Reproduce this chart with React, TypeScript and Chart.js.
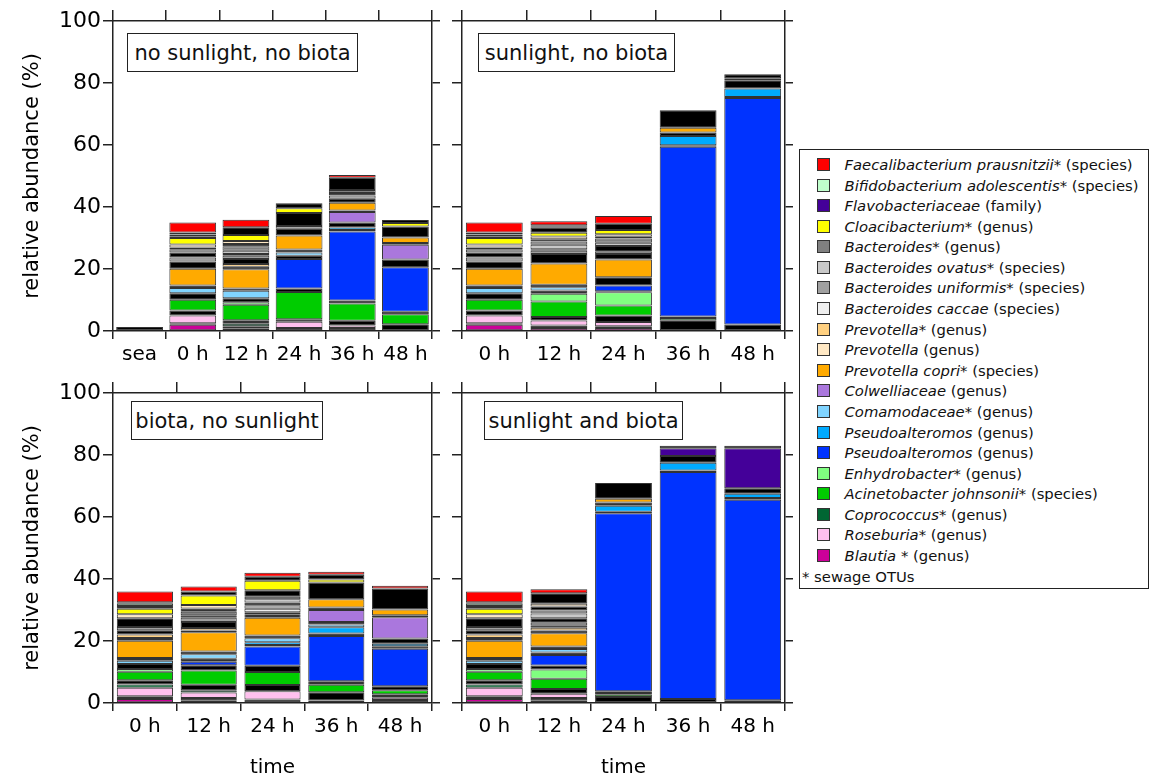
import React, { useEffect, useRef } from 'react';
import { Chart, registerables } from 'chart.js';
Chart.register(...registerables);

const FONT = '"DejaVu Sans", sans-serif';

// categories
const catsTopLeft = ['sea', '0 h', '12 h', '24 h', '36 h', '48 h'];
const catsOther = ['0 h', '12 h', '24 h', '36 h', '48 h'];
const panelTitles = ['no sunlight, no biota', 'sunlight, no biota', 'biota, no sunlight', 'sunlight and biota'];

// relative abundance (%) per panel: [no sun/no biota (6), sun/no biota (5), biota/no sun (5), sun+biota (5)]
const blautia = [[0, 2.0, 0.9, 0, 0, 0], [2.0, 1.0, 1.0, 0, 0], [1.3, 0.9, 0, 0.8, 0], [1.3, 0.9, 0, 0, 0]];
const otherA = [[1.3, 0.5, 0.6, 1.0, 1.0, 2.2], [0.5, 0.8, 0.5, 3.5, 2.1], [0.9, 0.7, 1.1, 2.7, 1.0], [0.9, 0.7, 1.9, 1.3, 0.9]];
const roseburia = [[0, 2.5, 0, 2.0, 0.8, 0], [2.5, 1.6, 1.4, 0, 0], [2.7, 1.8, 2.7, 0, 0.7], [2.7, 1.4, 0, 0, 0]];
const coprococcus = [[0, 0, 0.8, 0, 0, 0], [0, 0, 0, 0, 0], [1.1, 0.7, 0, 0, 0], [1.1, 0, 0, 0, 0]];
const otherB = [[0, 1.6, 1.2, 0.8, 1.5, 0], [1.6, 1.1, 2.1, 0, 0], [1.3, 1.8, 2.0, 0, 1.1], [1.3, 1.5, 0, 0, 0]];
const acinetobacter = [[0, 3.5, 5.0, 8.8, 5.6, 3.2], [3.5, 5.0, 3.2, 0, 0], [2.8, 4.6, 4.2, 2.4, 1.3], [2.8, 3.3, 0.8, 0, 0]];
const enhydrobacter = [[0, 0, 0.8, 0, 0, 0], [0, 2.5, 4.3, 0.7, 0], [0.9, 0, 0, 0, 0], [0.9, 3.0, 0, 0, 0]];
const otherC = [[0, 2.1, 1.3, 1.1, 0.9, 0.8], [2.1, 1.1, 0.3, 0.5, 0], [1.6, 1.7, 2.0, 1.1, 1.3], [1.6, 1.3, 1.1, 0, 0]];
const pseudoBlue = [[0, 0, 0, 9.5, 22.3, 14.4], [0, 0, 1.9, 54.7, 73.1], [0, 1.1, 6.2, 14.6, 12.1], [0, 3.4, 57.4, 73.2, 64.7]];
const otherD = [[0, 0, 0, 1.1, 0.5, 2.5], [0, 0, 2.6, 0.5, 0.3], [0, 1.0, 0.5, 0.8, 0.8], [0, 0.8, 0.5, 0.5, 0.5]];
const pseudoLight = [[0, 0, 0, 0, 0.8, 0], [0, 0, 0, 3.0, 2.7], [0, 0, 0.9, 2.0, 0.8], [0, 0, 1.9, 2.5, 1.4]];
const comamodaceae = [[0, 1.7, 2.4, 1.0, 0, 0], [1.7, 1.0, 0, 0, 0], [1.0, 1.4, 1.3, 0.9, 0], [1.0, 1.1, 0, 0, 0]];
const otherE = [[0, 0.8, 0.7, 1.0, 1.6, 0], [0.8, 0.8, 0, 1.1, 2.7], [0.9, 0.9, 0.9, 0.8, 1.7], [0.9, 0.8, 1.1, 2.2, 1.8]];
const colwelliaceae = [[0, 0, 0, 0, 3.4, 4.7], [0, 0, 0, 0, 0], [0, 0, 0, 3.9, 6.9], [0, 0, 0, 0, 0]];
const otherF = [[0, 0, 0, 0, 0.5, 0.6], [0, 0, 0, 0, 0], [0, 0, 0, 0.8, 0.6], [0, 0, 0, 0, 0]];
const prevotellaCopri = [[0, 5.4, 6.2, 4.5, 2.5, 1.8], [5.4, 6.9, 5.8, 1.6, 0], [5.6, 6.2, 5.7, 2.7, 1.9], [5.6, 4.3, 1.2, 0, 0]];
const otherG = [[0, 2.3, 0.8, 2.2, 1.3, 3.5], [2.3, 3.0, 1.7, 5.6, 0], [0.9, 0.6, 1.1, 5.4, 6.7], [0.9, 0.9, 5.1, 0, 0]];
const prevotellaStar = [[0, 0, 0.9, 0, 0, 0], [0, 0, 0, 0, 0], [1.1, 0.8, 0, 0, 0], [1.1, 0.9, 0, 0, 0]];
const otherH = [[0, 0, 1.6, 0, 0, 0], [0, 0, 0, 0, 0], [1.4, 1.9, 0.7, 0, 0], [1.4, 0.8, 0, 0, 0]];
const bactCaccae = [[0, 0, 0, 0, 0, 0], [0, 0, 0.8, 0, 0], [0, 0, 1.1, 0, 0], [0, 0.8, 0, 0, 0]];
const bactUniformis = [[0, 1.3, 1.1, 0.9, 1.0, 0], [1.3, 1.1, 0, 0, 0], [1.0, 1.4, 1.1, 0, 0], [1.0, 0, 0, 0, 0]];
const otherI = [[0, 1.6, 0.5, 4.2, 0.8, 0], [1.6, 0.5, 1.8, 0, 0], [2.8, 0.8, 0.9, 0, 0], [2.8, 1.4, 0, 0, 0]];
const bactOvatus = [[0, 0, 1.1, 0, 0, 0], [0, 1.4, 1.1, 0, 0], [0, 0, 1.1, 0, 0], [0, 1.6, 0, 0, 0]];
const bacteroides = [[0, 1.1, 1.4, 0, 1.0, 0], [1.1, 1.1, 1.3, 0, 0], [0, 1.1, 0.8, 0, 0], [0, 0.9, 0, 0, 0]];
const otherJ = [[0, 0.5, 0.8, 0, 3.9, 0], [0.5, 0.7, 0.6, 0, 0], [0, 1.1, 2.1, 0, 0], [0, 1.3, 0, 0, 0]];
const prevotella = [[0, 1.0, 0.9, 0, 0, 0], [1.0, 0.9, 0.8, 0, 0], [1.3, 1.1, 0, 0, 0], [1.3, 0.9, 0, 0, 0]];
const cloacibacterium = [[0, 2.1, 2.0, 1.5, 0, 1.1], [2.1, 1.2, 1.4, 0, 0], [1.8, 3.1, 3.0, 0.9, 0], [1.8, 0, 0, 0, 0]];
const otherK = [[0, 0.6, 2.5, 1.6, 0, 1.0], [0.6, 1.6, 2.0, 0, 0], [0.9, 1.3, 1.3, 1.6, 0], [0.9, 3.4, 0, 0, 0]];
const flavobacteriaceae = [[0, 0, 0, 0, 0, 0], [0, 0, 0, 0, 0.6], [0, 0, 0, 0, 0], [0, 0, 0, 2.5, 12.9]];
const otherL = [[0, 0, 0, 0, 0, 0], [0, 0, 0, 0, 1.3], [0, 0, 0, 0, 0], [0, 0, 0, 0.8, 0.8]];
const bifidobacterium = [[0, 0.5, 0, 0, 0, 0], [0.5, 0.5, 0, 0, 0], [0.7, 0, 0, 0, 0], [0.7, 0, 0, 0, 0]];
const otherM = [[0, 0.7, 0, 0, 0, 0], [0.7, 0.3, 0, 0, 0], [0.5, 0, 0, 0, 0], [0.5, 0, 0, 0, 0]];
const faecalibacterium = [[0, 3.2, 2.4, 0, 0.9, 0], [3.2, 1.3, 2.5, 0, 0], [3.5, 1.6, 1.3, 0.9, 0.9], [3.5, 1.3, 0, 0, 0]];

// colours
const C = {
  faecali: '#ff0000', bifido: '#c0ffcc', flavo: '#440099', cloaci: '#ffff00', bact: '#808080',
  ovatus: '#c8c8c8', uniformis: '#a0a0a0', caccae: '#eeeeee', prevStar: '#ffd080', prev: '#ffe8c4',
  copri: '#ffaa00', colw: '#aa77dd', comamo: '#80d4ff', pseudoLight: '#00aaff', pseudoBlue: '#0033ff',
  enhydro: '#80ff80', acin: '#00cc00', copro: '#006633', rose: '#ffc0ee', blautia: '#cc0099', other: '#000000',
};

// stacking order (bottom to top)
const stackOrder: { label: string; values: number[][]; color: string }[] = [
  { label: 'Blautia*', values: blautia, color: C.blautia },
  { label: 'other OTUs', values: otherA, color: C.other },
  { label: 'Roseburia*', values: roseburia, color: C.rose },
  { label: 'Coprococcus*', values: coprococcus, color: C.copro },
  { label: 'other OTUs', values: otherB, color: C.other },
  { label: 'Acinetobacter johnsonii*', values: acinetobacter, color: C.acin },
  { label: 'Enhydrobacter*', values: enhydrobacter, color: C.enhydro },
  { label: 'other OTUs', values: otherC, color: C.other },
  { label: 'Pseudoalteromos', values: pseudoBlue, color: C.pseudoBlue },
  { label: 'other OTUs', values: otherD, color: C.other },
  { label: 'Pseudoalteromos', values: pseudoLight, color: C.pseudoLight },
  { label: 'Comamodaceae*', values: comamodaceae, color: C.comamo },
  { label: 'other OTUs', values: otherE, color: C.other },
  { label: 'Colwelliaceae', values: colwelliaceae, color: C.colw },
  { label: 'other OTUs', values: otherF, color: C.other },
  { label: 'Prevotella copri*', values: prevotellaCopri, color: C.copri },
  { label: 'other OTUs', values: otherG, color: C.other },
  { label: 'Prevotella*', values: prevotellaStar, color: C.prevStar },
  { label: 'other OTUs', values: otherH, color: C.other },
  { label: 'Bacteroides caccae', values: bactCaccae, color: C.caccae },
  { label: 'Bacteroides uniformis*', values: bactUniformis, color: C.uniformis },
  { label: 'other OTUs', values: otherI, color: C.other },
  { label: 'Bacteroides ovatus*', values: bactOvatus, color: C.ovatus },
  { label: 'Bacteroides*', values: bacteroides, color: C.bact },
  { label: 'other OTUs', values: otherJ, color: C.other },
  { label: 'Prevotella', values: prevotella, color: C.prev },
  { label: 'Cloacibacterium*', values: cloacibacterium, color: C.cloaci },
  { label: 'other OTUs', values: otherK, color: C.other },
  { label: 'Flavobacteriaceae', values: flavobacteriaceae, color: C.flavo },
  { label: 'other OTUs', values: otherL, color: C.other },
  { label: 'Bifidobacterium adolescentis*', values: bifidobacterium, color: C.bifido },
  { label: 'other OTUs', values: otherM, color: C.other },
  { label: 'Faecalibacterium prausnitzii*', values: faecalibacterium, color: C.faecali },
];

// legend (top to bottom)
const legendNames = ['Faecalibacterium prausnitzii*', 'Bifidobacterium adolescentis*', 'Flavobacteriaceae', 'Cloacibacterium*',
  'Bacteroides*', 'Bacteroides ovatus*', 'Bacteroides uniformis*', 'Bacteroides caccae', 'Prevotella', 'Prevotella',
  'Prevotella copri', 'Colwelliaceae', 'Comamodaceae', 'Pseudoalteromos', 'Pseudoalteromos', 'Enhydrobacter*',
  'Acinetobacter johnsonii*', 'Coprococcus*', 'Roseburia*', 'Blautia'];
const legendSuffix = [' (species)', ' (species)', ' (family)', ' (genus)', ' (genus)', ' (species)', ' (species)', ' (species)',
  '* (genus)', ' (genus)', '* (species)', ' (genus)', '* (genus)', ' (genus)', ' (genus)', ' (genus)', ' (species)',
  ' (genus)', ' (genus)', ' * (genus)'];
const legendColors = [C.faecali, C.bifido, C.flavo, C.cloaci, C.bact, C.ovatus, C.uniformis, C.caccae, C.prevStar, C.prev,
  C.copri, C.colw, C.comamo, C.pseudoLight, C.pseudoBlue, C.enhydro, C.acin, C.copro, C.rose, C.blautia];

const AX = '#222';

type PanelProps = {
  idx: number; left: number; top: number; width: number; height: number;
  box: { l: number; r: number; t: number; b: number };
  labels: string[]; yLabels: boolean; xTitle: boolean;
};

function Panel(p: PanelProps) {
  const ref = useRef<HTMLCanvasElement>(null);
  useEffect(() => {
    const datasets = stackOrder.map((s) => ({
      label: s.label,
      data: s.values[p.idx].map((v) => (v > 0 ? v : null)),
      backgroundColor: s.color,
      borderColor: '#333',
      borderWidth: 1,
      borderSkipped: false as const,
      categoryPercentage: 1,
      barPercentage: 0.88,
    }));
    const gridCommon = { drawOnChartArea: false, drawTicks: true, color: AX, lineWidth: 1.5 };
    const border = { display: true, color: AX, width: 1.5 };
    const chart = new Chart(ref.current!, {
      type: 'bar',
      data: { labels: p.labels, datasets },
      options: {
        animation: false,
        responsive: false,
        maintainAspectRatio: false,
        layout: { padding: 0 },
        plugins: { legend: { display: false }, tooltip: { enabled: false } },
        scales: {
          x: {
            type: 'category', position: 'bottom', stacked: true, offset: true,
            grid: { ...gridCommon, offset: true, tickLength: 8 },
            border,
            ticks: { color: '#000', font: { family: FONT, size: 20 }, padding: 4, maxRotation: 0, autoSkip: false },
            title: { display: p.xTitle, text: 'time', color: '#000', font: { family: FONT, size: 20 }, padding: { top: 0, bottom: 0 } },
            afterFit: (s: any) => { s.height = p.box.b; },
          },
          x2: {
            type: 'category', position: 'top', offset: true,
            grid: { ...gridCommon, offset: true, tickLength: 11 },
            border,
            ticks: { display: false },
            afterFit: (s: any) => { s.height = p.box.t; },
          },
          y: {
            type: 'linear', position: 'left', stacked: true, min: 0, max: 100,
            grid: { ...gridCommon, tickLength: 10 },
            border,
            ticks: { display: p.yLabels, stepSize: 20, color: '#000', font: { family: FONT, size: 22 }, padding: 2 },
            title: { display: p.yLabels, text: 'relative abundance (%)', color: '#000', font: { family: FONT, size: 21 }, padding: { top: 20, bottom: 0 } },
            afterFit: (s: any) => { s.width = p.box.l; },
          },
          y2: {
            type: 'linear', position: 'right', min: 0, max: 100,
            grid: { ...gridCommon, tickLength: 8 },
            border,
            ticks: { display: false, stepSize: 20 },
            afterFit: (s: any) => { s.width = p.box.r; },
          },
        },
      } as any,
    });
    return () => chart.destroy();
  }, []);
  return (
    <canvas ref={ref} width={p.width} height={p.height}
      style={{ position: 'absolute', left: p.left, top: p.top, width: p.width, height: p.height }} />
  );
}

function TitleBox({ text, left, top, width }: { text: string; left: number; top: number; width: number }) {
  return (
    <div style={{
      position: 'absolute', left, top, width, height: 39, boxSizing: 'border-box', border: '1.5px solid #222',
      background: '#fff', fontFamily: FONT, fontSize: 21, color: '#111', display: 'flex', alignItems: 'center',
      justifyContent: 'center', whiteSpace: 'nowrap',
    }}>{text}</div>
  );
}

export default function App() {
  const rowPitch = 20.58;
  return (
    <div style={{ position: 'absolute', left: 0, top: 0, width: 1149, height: 780, background: '#fff', overflow: 'hidden' }}>
      <Panel idx={0} left={0} top={0} width={450} height={375} box={{ l: 113, r: 18, t: 21, b: 44 }} labels={catsTopLeft} yLabels={true} xTitle={false} />
      <Panel idx={1} left={445} top={0} width={355} height={375} box={{ l: 17, r: 15, t: 21, b: 44 }} labels={catsOther} yLabels={false} xTitle={false} />
      <Panel idx={2} left={0} top={375} width={450} height={405} box={{ l: 113, r: 18, t: 18, b: 77 }} labels={catsOther} yLabels={true} xTitle={true} />
      <Panel idx={3} left={445} top={375} width={355} height={405} box={{ l: 17, r: 15, t: 18, b: 77 }} labels={catsOther} yLabels={false} xTitle={true} />

      <TitleBox text={panelTitles[0]} left={127} top={33} width={231} />
      <TitleBox text={panelTitles[1]} left={478} top={33} width={197} />
      <TitleBox text={panelTitles[2]} left={131} top={401} width={192} />
      <TitleBox text={panelTitles[3]} left={484} top={401} width={199} />

      <div style={{
        position: 'absolute', left: 799, top: 149, width: 350, height: 440, boxSizing: 'border-box',
        border: '1.5px solid #222', background: '#fff', fontFamily: FONT, fontSize: 14.8, color: '#111',
      }}>
        {legendNames.map((name, i) => (
          <div key={i} style={{
            position: 'absolute', left: 16.5, top: 14.5 + i * rowPitch - 10, height: 20,
            display: 'flex', alignItems: 'center', whiteSpace: 'nowrap',
          }}>
            <span style={{
              display: 'inline-block', width: 13, height: 13, boxSizing: 'border-box', background: legendColors[i],
              border: '1px solid #333', marginRight: 15, flex: '0 0 auto',
            }} />
            <span><i>{name}</i>{legendSuffix[i]}</span>
          </div>
        ))}
        <div style={{ position: 'absolute', left: 2, top: 14.5 + 20 * rowPitch - 10, height: 20, display: 'flex', alignItems: 'center', whiteSpace: 'nowrap' }}>
          * sewage OTUs
        </div>
      </div>
    </div>
  );
}
